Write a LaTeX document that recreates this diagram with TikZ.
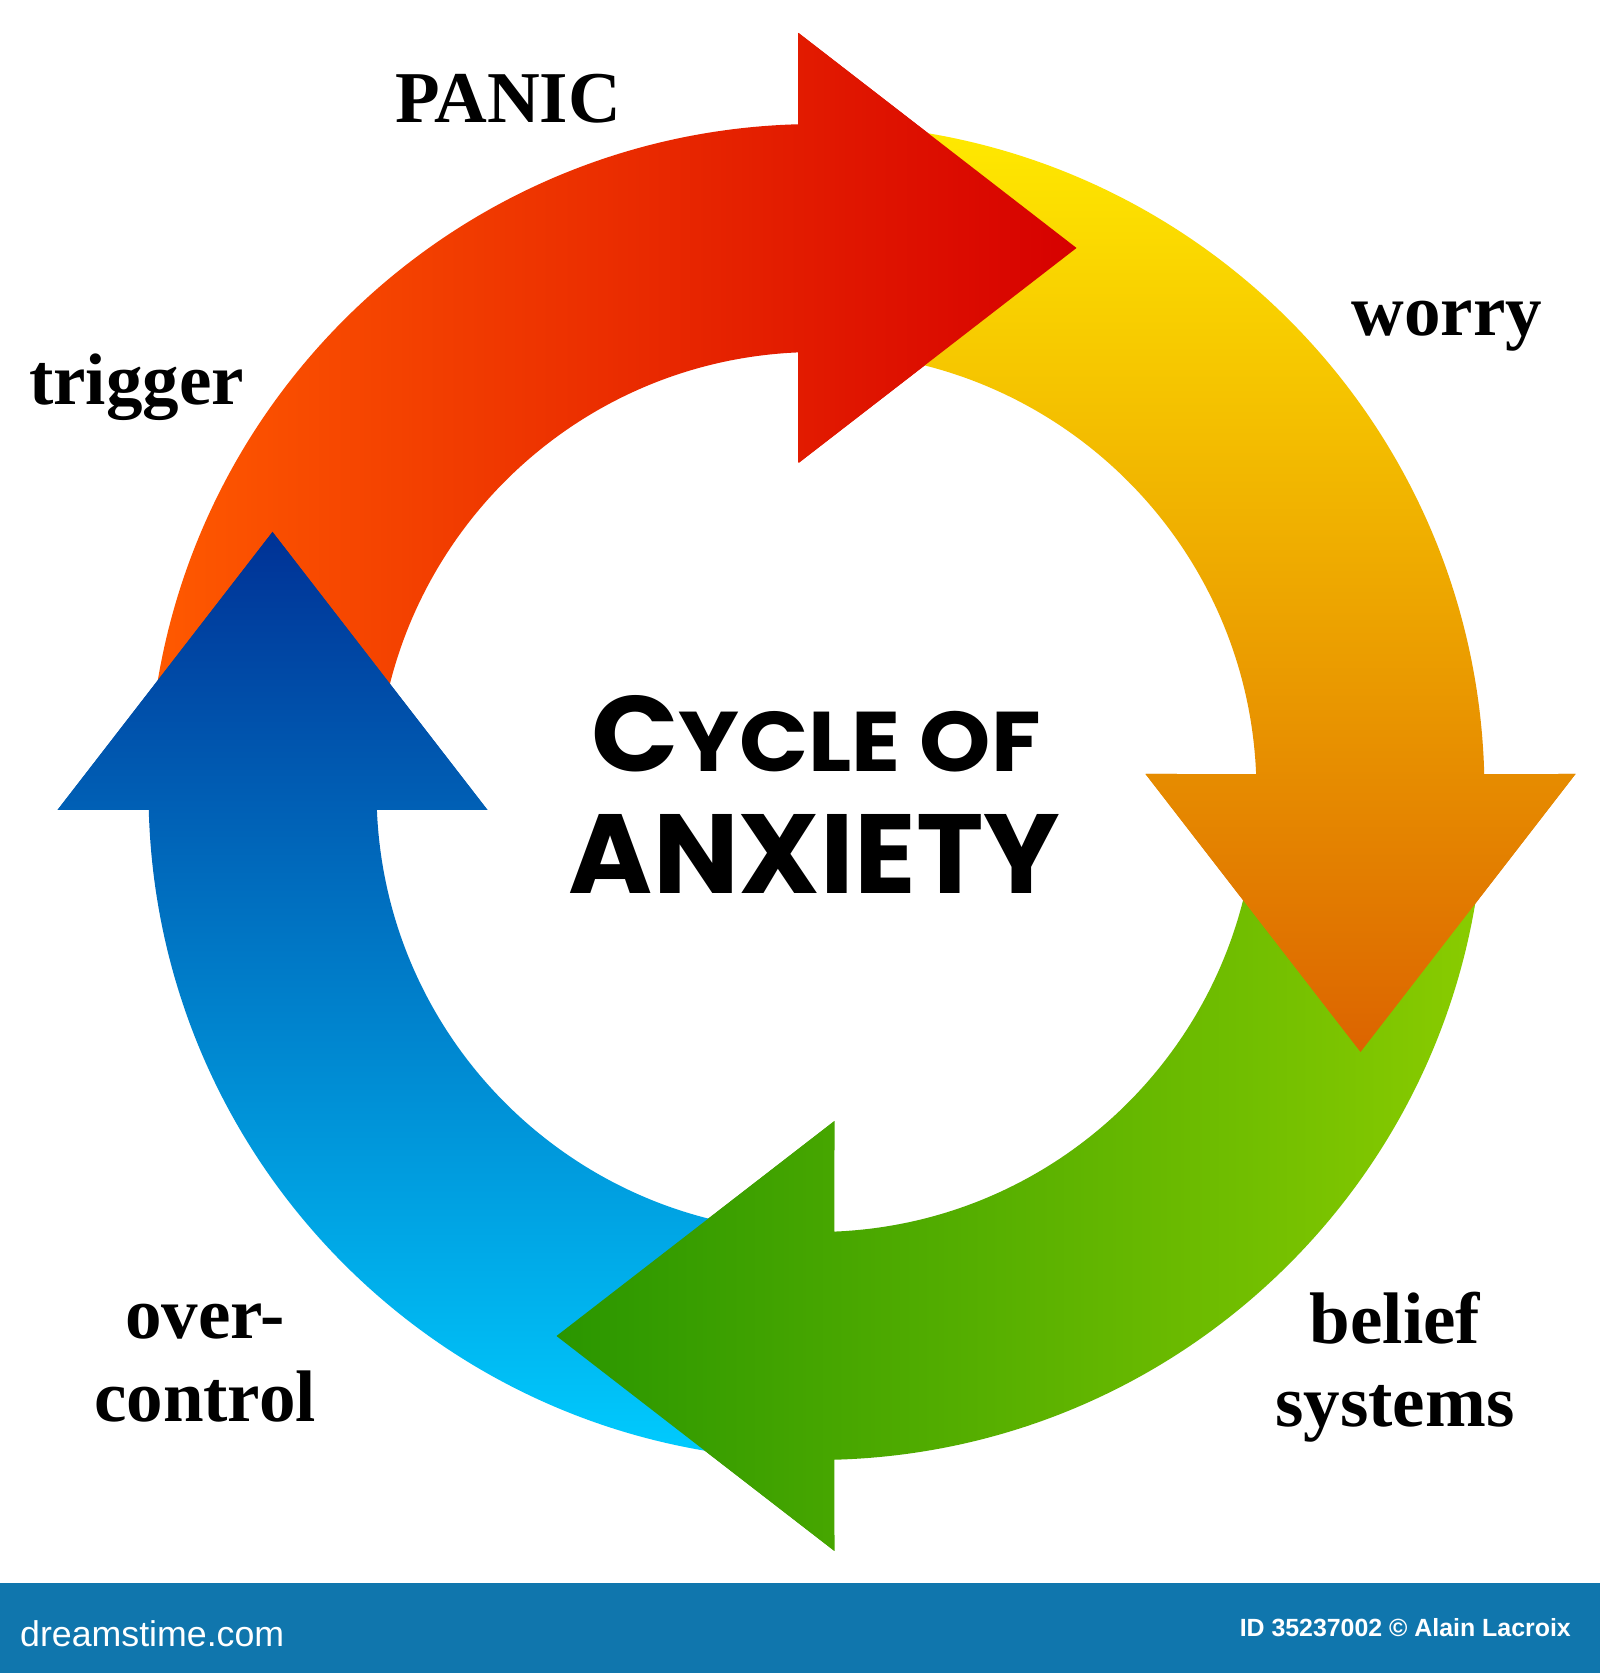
\documentclass[tikz,border=0pt]{standalone}
\usepackage{fontspec}
\usepackage{graphicx}
\setmainfont{Liberation Serif}
\newfontfamily\titlefont{Poppins}
\newfontfamily\barfont{Liberation Sans}
\definecolor{redL}{RGB}{255,90,0}
\definecolor{redR}{RGB}{214,0,0}
\definecolor{yelT}{RGB}{255,234,0}
\definecolor{yelM}{RGB}{240,176,0}
\definecolor{yelB}{RGB}{220,100,0}
\definecolor{grnL}{RGB}{42,150,0}
\definecolor{grnR}{RGB}{138,204,0}
\definecolor{bluT}{RGB}{0,50,150}
\definecolor{bluM}{RGB}{0,118,200}
\definecolor{bluB}{RGB}{0,204,255}
\definecolor{barblue}{RGB}{16,118,173}
\tikzset{
  redarrow/.style={insert path={(180:668pt) arc[start angle=180,end angle=91.54,radius=668pt] -- (-18,759) -- (260,544) -- (-18,329) -- (92.34:440pt) arc[start angle=92.34,end angle=180,radius=440pt] -- cycle}},
  orgarrow/.style={insert path={(90:668pt) arc[start angle=90,end angle=1.54,radius=668pt] -- (759,18) -- (544,-260) -- (329,18) -- (2.34:440pt) arc[start angle=2.34,end angle=90,radius=440pt] -- cycle}},
  grnarrow/.style={insert path={(0:668pt) arc[start angle=0,end angle=-88.46,radius=668pt] -- (18,-759) -- (-260,-544) -- (18,-329) -- (-87.66:440pt) arc[start angle=-87.66,end angle=0,radius=440pt] -- cycle}},
  bluarrow/.style={insert path={(-90:668pt) arc[start angle=-90,end angle=-178.46,radius=668pt] -- (-759,-18) -- (-544,260) -- (-329,-18) -- (-177.66:440pt) arc[start angle=-177.66,end angle=-90,radius=440pt] -- cycle}},
  redshade/.style={left color=redL, right color=redR},
  orgshade/.style={top color=yelT, middle color=yelM, bottom color=yelB},
  grnshade/.style={left color=grnL, right color=grnR},
  blushade/.style={top color=bluT, middle color=bluM, bottom color=bluB},
  lbl/.style={font=\fontsize{73}{83}\selectfont\bfseries, inner sep=0pt, anchor=base},
}
\begin{document}
\begin{tikzpicture}[x=1pt,y=1pt]
\useasboundingbox (0,0) rectangle (1600,1673);
\fill[white] (0,0) rectangle (1600,1673);
\begin{scope}[shift={(816.5,881)}]
  \path[redshade, redarrow];
  \path[orgshade, orgarrow];
  \path[grnshade, grnarrow];
  \path[blushade, bluarrow];
  \begin{scope}
    \clip (-18,759) -- (260,544) -- (-18,329) -- cycle;
    \path[redshade, redarrow];
  \end{scope}
  \begin{scope}
    \clip (759,18) -- (544,-260) -- (329,18) -- cycle;
    \path[orgshade, orgarrow];
  \end{scope}
  \begin{scope}
    \clip (18,-759) -- (-260,-544) -- (18,-329) -- cycle;
    \path[grnshade, grnarrow];
  \end{scope}
  \begin{scope}
    \clip (-759,-18) -- (-544,260) -- (-329,-18) -- cycle;
    \path[blushade, bluarrow];
  \end{scope}
\end{scope}
\node[lbl] (panic) at (508,1550) {PANIC};
\node[lbl] (trigger) at (136.5,1268) {trigger};
\node[lbl] (worry) at (1447,1337) {worry};
\node[lbl] (over) at (205,334) {over-};
\node[lbl] (control) at (205,251) {control};
\node[lbl] (belief) at (1395,329) {belief};
\node[lbl] (systems) at (1395,246) {systems};
\node[anchor=base, inner sep=0pt] (cycle) at (816,901) {\resizebox{450pt}{76pt}{\titlefont\bfseries C\scalebox{0.79}{YCLE OF}}};
\node[anchor=base, inner sep=0pt] (anxiety) at (814.5,779) {\resizebox{491pt}{79pt}{\titlefont\bfseries ANXIETY}};
\fill[barblue] (0,0) rectangle (1600,90);
\node[anchor=base west, inner sep=0pt, text=white] (ds) at (20,27) {\resizebox{264pt}{!}{\barfont dreamstime.com}};
\node[anchor=base east, inner sep=0pt, text=white] (id) at (1571,36) {\resizebox{331pt}{!}{\barfont\bfseries ID 35237002 © Alain Lacroix}};
\end{tikzpicture}
\end{document}
